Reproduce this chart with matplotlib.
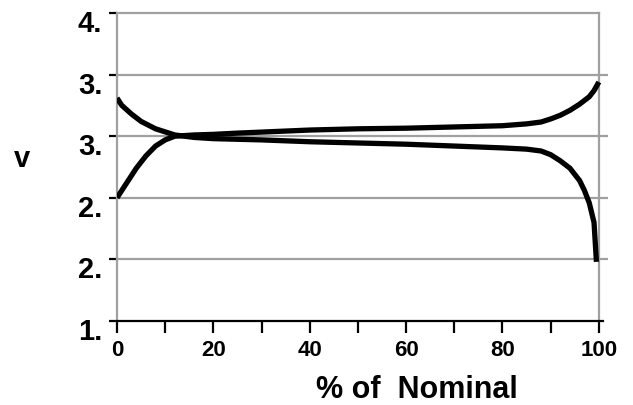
import matplotlib
matplotlib.use("Agg")
import matplotlib.pyplot as plt
import matplotlib.transforms as mtransforms
import numpy as np

plt.rcParams['font.family'] = ['Liberation Sans', 'DejaVu Sans']

# Data
discharge_x = [0, 1, 3, 5, 8, 12, 16, 20, 25, 30, 40, 50, 60, 70, 80, 85, 88, 90, 92, 94, 96, 97, 98, 99, 99.5]
discharge_v = [3.31, 3.25, 3.18, 3.12, 3.06, 3.01, 2.99, 2.98, 2.975, 2.97, 2.955, 2.945, 2.935, 2.92, 2.905, 2.895, 2.88, 2.85, 2.80, 2.74, 2.64, 2.56, 2.46, 2.30, 1.98]
charge_x = [0, 2, 4, 6, 8, 10, 12, 16, 20, 25, 31, 40, 50, 60, 70, 80, 85, 88, 90, 92, 94, 96, 98, 99, 100]
charge_v = [2.50, 2.62, 2.74, 2.84, 2.92, 2.97, 3.00, 3.01, 3.015, 3.025, 3.035, 3.05, 3.06, 3.065, 3.075, 3.085, 3.10, 3.115, 3.14, 3.17, 3.21, 3.26, 3.32, 3.37, 3.44]

y_ticks = [1.5, 2.0, 2.5, 3.0, 3.5, 4.0]
y_tick_labels = ["1.", "2.", "2.", "3.", "3.", "4."]
x_ticks = [0, 20, 40, 60, 80, 100]
x_tick_labels = ["0", "20", "40", "60", "80", "100"]

fig = plt.figure(figsize=(6.33, 4.06), dpi=100)
ax = fig.add_axes([117/633, 1-322/406, (608-117)/633, (322-14)/406])

grid_c = '#a0a0a0'
for yv in y_ticks[1:-1]:
    ax.axhline(yv, color=grid_c, lw=1.6, zorder=1)
ax.plot([0, 100], [4.0, 4.0], color=grid_c, lw=1.6, zorder=1, clip_on=False)

ax.plot(discharge_x, discharge_v, color='black', lw=3.8, zorder=3, solid_capstyle='butt')
ax.plot(charge_x, charge_v, color='black', lw=3.8, zorder=3, solid_capstyle='butt')

ax.set_xlim(0, 101.9)
ax.set_ylim(1.5, 4.0)

ax.spines['top'].set_visible(False)
ax.spines['right'].set_position(('data', 100))
ax.spines['right'].set_color(grid_c)
ax.spines['right'].set_linewidth(1.6)
ax.spines['left'].set_color(grid_c)
ax.spines['left'].set_linewidth(1.6)
ax.spines['bottom'].set_color('black')
ax.spines['bottom'].set_linewidth(1.6)
ax.spines['bottom'].set_bounds(0, 100.8)

ax.set_xticks(x_ticks)
ax.set_xticklabels(x_tick_labels, fontsize=16, fontweight='bold')
ax.set_xticks(np.arange(10, 100, 20), minor=True)
ax.tick_params(axis='x', which='both', direction='out', length=8.5, width=1.6, color='black', pad=4.5)
ax.set_yticks(y_ticks)
ax.set_yticklabels(y_tick_labels, fontsize=21, fontweight='bold')
ax.tick_params(axis='y', direction='out', length=5.5, width=1.6, color='black', pad=5)
ax.yaxis.set_ticks_position('left')
ax.xaxis.set_ticks_position('bottom')

offset = mtransforms.ScaledTranslation(0, -7/100, fig.dpi_scale_trans)
for lab in ax.get_yticklabels():
    lab.set_transform(lab.get_transform() + offset)

fig.text(417/633, 1-390/406, "% of  Nominal", fontsize=22, fontweight='bold', ha='center', va='center')
fig.text(22/633, 1-159/406, "v", fontsize=21, fontweight='bold', ha='center', va='center')

fig.savefig("out.png", dpi=100)
